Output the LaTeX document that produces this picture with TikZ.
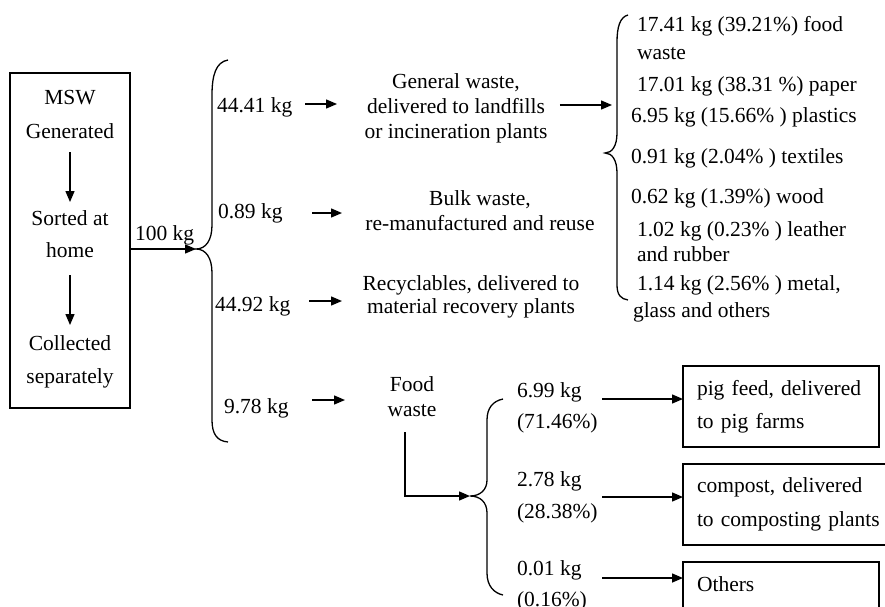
\documentclass[tikz,border=0pt]{standalone}
\usepackage{fontspec}
\setmainfont{Liberation Serif}
\usetikzlibrary{arrows.meta,calc}
\begin{document}
\begin{tikzpicture}[x=1pt,y=-1pt,
  txt/.style={font=\fontsize{21.5}{25}\selectfont, inner sep=0pt, outer sep=0pt},
  arr/.style={line width=1.4pt, -{Triangle[length=11pt,width=9pt]}},
  ln/.style={line width=1.3pt},
  box/.style={draw, line width=1.1pt, txt, align=left, inner xsep=14pt, inner ysep=0pt}]
\clip (0,0) rectangle (885,606);
\useasboundingbox (0,0) rectangle (885,606);

% MSW box
\node[draw, line width=1.1pt, minimum width=120pt, minimum height=335pt, inner sep=0pt] (msw) at (70,240.5) {};
\node[txt, align=center, anchor=north, font=\fontsize{21.5}{34}\selectfont] (t1) at (70,90) {MSW\\Generated};
\node[txt, align=center, anchor=north, font=\fontsize{21.5}{32}\selectfont] (t2) at (70,211) {Sorted at\\home};
\node[txt, align=center, anchor=north, font=\fontsize{21.5}{33}\selectfont] (t3) at (70,336) {Collected\\separately};
\draw[arr, shorten <=14pt, shorten >=9pt] (t1) -- (t2);
\draw[arr, shorten <=17pt, shorten >=11pt] (t2) -- (t3);

% 100 kg
\coordinate (tipA) at (196,249);
\draw[arr] (msw.east |- tipA) -- (tipA);
\node[txt, anchor=base west] (l100) at (135,240) {100 kg};

% big brace
\draw[ln] (228,60) .. controls (216,62) and (212,75) .. (212,95) -- (212,225)
  .. controls (212,240) and (206,249) .. (tipA)
  .. controls (206,249) and (212,258) .. (212,273) -- (212,420)
  .. controls (212,434) and (217,441) .. (228,442);

% labels
\node[txt, anchor=base west] (l1) at (217,112) {44.41 kg};
\node[txt, anchor=base west] (l2) at (218,218) {0.89 kg};
\node[txt, anchor=base west] (l3) at (215,311) {44.92 kg};
\node[txt, anchor=base west] (l4) at (224,413) {9.78 kg};

% texts
\node[txt, align=center, anchor=north] (gen) at (456,73.5) {General waste,\\delivered to landfills\\or incineration plants};
\node[txt, align=center, anchor=north] (bulk) at (480,190.5) {Bulk waste,\\re-manufactured and reuse};
\node[txt, align=center, anchor=north, font=\fontsize{21.5}{23.5}\selectfont] (rec) at (471,275.5) {Recyclables, delivered to\\material recovery plants};
\node[txt, align=center, anchor=north] (fw) at (412,377) {Food\\waste};

% short arrows
\coordinate (a1s) at (305,104); \coordinate (a1e) at (337,104);
\coordinate (a2s) at (312,213); \coordinate (a2e) at (342,213);
\coordinate (a3s) at (309,301); \coordinate (a3e) at (342,301);
\coordinate (a4s) at (312,400); \coordinate (a4e) at (345,400);
\draw[arr] (a1s) -- (a1e);
\draw[arr] (a2s) -- (a2e);
\draw[arr] (a3s) -- (a3e);
\draw[arr] (a4s) -- (a4e);

% general -> right brace
\coordinate (rbA) at (612,105);
\draw[arr, shorten <=12.5pt] (gen.east |- rbA) -- (rbA);

% right brace
\coordinate (tipB) at (605,153);
\draw[ln] (628,15) .. controls (620,17) and (617,27) .. (617,42) -- (617,133)
  .. controls (617,146) and (612,153) .. (tipB)
  .. controls (612,153) and (617,160) .. (617,173) -- (617,285)
  .. controls (617,295) and (621,299) .. (628,300);

% list
\node[txt, align=left, anchor=north west, font=\fontsize{21.5}{28}\selectfont] (w1) at (637,16) {17.41 kg (39.21\%) food\\waste};
\node[txt, anchor=base west] (w2) at (637,91) {17.01 kg (38.31 \%) paper};
\node[txt, anchor=base west] (w3) at (631,122) {6.95 kg (15.66\% ) plastics};
\node[txt, anchor=base west] (w4) at (631,163) {0.91 kg (2.04\% ) textiles};
\node[txt, anchor=base west] (w5) at (631,203) {0.62 kg (1.39\%) wood};
\node[txt, align=left, anchor=north west, font=\fontsize{21.5}{25}\selectfont] (w6) at (637,222) {1.02 kg (0.23\% ) leather\\and rubber};
\node[txt, align=left, anchor=north west, font=\fontsize{21.5}{27}\selectfont] (w7) at (637,276) {1.14 kg (2.56\% ) metal,\\\hspace*{-4pt}glass and others};

% food waste branch
\coordinate (tipC) at (470,496);
\draw[arr] ([xshift=-7pt,yshift=-15pt]fw.south) |- (tipC);
\draw[ln] (503,399) .. controls (493,401) and (487,408) .. (487,420) -- (487,480)
  .. controls (487,490) and (480,496) .. (tipC)
  .. controls (480,496) and (487,502) .. (487,513) -- (487,573)
  .. controls (487,586) and (494,593) .. (503,595);

\node[txt, align=left, anchor=north west, font=\fontsize{21.5}{31}\selectfont] (f1) at (517,383) {6.99 kg\\(71.46\%)};
\node[txt, align=left, anchor=north west, font=\fontsize{21.5}{32}\selectfont] (f2) at (517,472) {2.78 kg\\(28.38\%)};
\node[txt, align=left, anchor=north west, font=\fontsize{21.5}{31}\selectfont] (f3) at (517,561) {0.01 kg\\(0.16\%)};

% boxes
\node[box, text width=168pt, minimum height=81pt, anchor=north west, font=\fontsize{21.5}{33}\selectfont] (b1) at (683,366) {pig feed, delivered\\to pig farms};
\node[box, text width=200pt, minimum height=81pt, anchor=north west, font=\fontsize{21.5}{34}\selectfont] (b2) at (683,464) {compost, delivered\\to composting plants};
\node[box, text width=168pt, inner ysep=15pt, text depth=37pt, anchor=north west] (b3) at (683,562) {Others};

\coordinate (s1) at (602,399);
\coordinate (s2) at (602,497);
\coordinate (s3) at (602,578);
\draw[arr] (s1) -- (s1 -| b1.west);
\draw[arr] (s2) -- (s2 -| b2.west);
\draw[arr] (s3) -- (s3 -| b3.west);
\end{tikzpicture}
\end{document}
